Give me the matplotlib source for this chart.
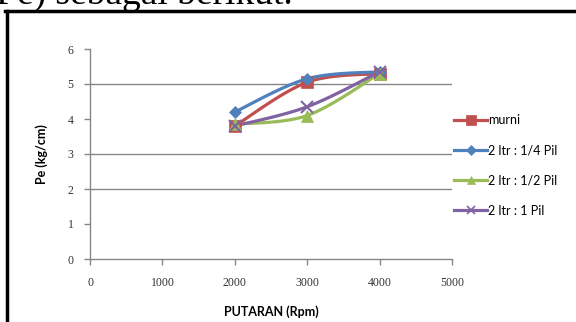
import numpy as np
import matplotlib
matplotlib.use("Agg")
import matplotlib.pyplot as plt
from matplotlib.lines import Line2D

# data
putaran = [2000, 3000, 4000]
murni = [3.8, 5.05, 5.3]
pil_14 = [4.2, 5.15, 5.35]
pil_12 = [3.85, 4.1, 5.3]
pil_1 = [3.8, 4.35, 5.35]

labels = ["murni", "2 ltr : 1/4 Pil", "2 ltr : 1/2 Pil", "2 ltr : 1 Pil"]
colors = ["#C0504D", "#4F81BD", "#9BBB59", "#8064A2"]
markers = ["s", "D", "^", "x"]
msizes = [9, 6, 8, 8]

W, H = 576, 322
fig = plt.figure(figsize=(W / 100, H / 100), dpi=100)
ax = fig.add_axes([90 / W, 1 - 259 / H, 362 / W, 210 / H])

xmax, ymax = 5000, 6
sx, sy = 362.0, 210.0  # pixel scale, for screen-space smoothing like Excel


def smooth(xs, ys, n=30):
    # Bezier through the points (catmull-rom style), done in pixel space
    p = np.column_stack([np.array(xs) / xmax * sx, np.array(ys) / ymax * sy])
    out = []
    for i in range(len(p) - 1):
        p0 = p[i - 1] if i > 0 else p[i]
        p1, p2 = p[i], p[i + 1]
        p3 = p[i + 2] if i + 2 < len(p) else p[i + 1]
        c1 = p1 + (p2 - p0) / 6
        c2 = p2 - (p3 - p1) / 6
        t = np.linspace(0, 1, n)[:, None]
        seg = ((1 - t) ** 3) * p1 + 3 * ((1 - t) ** 2) * t * c1 + 3 * (1 - t) * t ** 2 * c2 + t ** 3 * p2
        out.append(seg if i == 0 else seg[1:])
    out = np.vstack(out)
    return out[:, 0] / sx * xmax, out[:, 1] / sy * ymax


series = [murni, pil_14, pil_12, pil_1]
handles = []
for ys, lab, c, m, ms in zip(series, labels, colors, markers, msizes):
    cx, cy = smooth(putaran, ys)
    ax.plot(cx, cy, color=c, lw=2.3, zorder=3)
    ax.plot(putaran, ys, ls="none", marker=m, color=c, ms=ms, mew=1.5 if m == "x" else 0.5, zorder=4)
    handles.append(Line2D([], [], color=c, lw=2.3, marker=m, ms=ms * 0.8, mew=1.2 if m == "x" else 0.5))

ax.set_xlim(0, xmax)
ax.set_ylim(0, ymax)
ax.set_xticks(range(0, 5001, 1000))
ax.set_yticks(range(0, 7))
for g in [2, 3, 5]:
    ax.axhline(g, color="#868686", lw=1.0, zorder=1)

for s in ["top", "right"]:
    ax.spines[s].set_visible(False)
for s in ["left", "bottom"]:
    ax.spines[s].set_color("#868686")
    ax.spines[s].set_linewidth(1.0)
ax.tick_params(axis="both", colors="#868686", length=4, width=1.0, labelcolor="#333333",
               labelsize=8.5)
ax.tick_params(axis="x", pad=9)
ax.tick_params(axis="y", pad=8)
for t in ax.get_xticklabels() + ax.get_yticklabels():
    t.set_family("Liberation Serif")

ax.set_xlabel("PUTARAN (Rpm)", family="Lato", fontweight="bold", fontsize=9, labelpad=12)
ax.set_ylabel("Pe (kg/cm)", family="Lato", fontweight="bold", fontsize=9, labelpad=14)

leg = ax.legend(handles, labels, loc="upper left", bbox_to_anchor=(448 / W, 1 - 108 / H),
                bbox_transform=fig.transFigure, frameon=False, prop={"family": "Lato", "size": 9},
                handlelength=2.6, handletextpad=0.1, labelspacing=1.45, borderpad=0)

# page frame and the cut-off line of text above it
fig.add_artist(Line2D([6.5 / W, 6.5 / W], [0, 1 - 11 / H], color="black", lw=2.5, transform=fig.transFigure))
fig.add_artist(Line2D([5 / W, 1], [1 - 11 / H, 1 - 11 / H], color="black", lw=2.5, transform=fig.transFigure))
fig.text(-4 / W, 1 - 4 / H, "Pe) sebagai berikut.", family="Liberation Serif", fontsize=27,
         va="baseline", ha="left")

fig.savefig("out.png", dpi=100)
